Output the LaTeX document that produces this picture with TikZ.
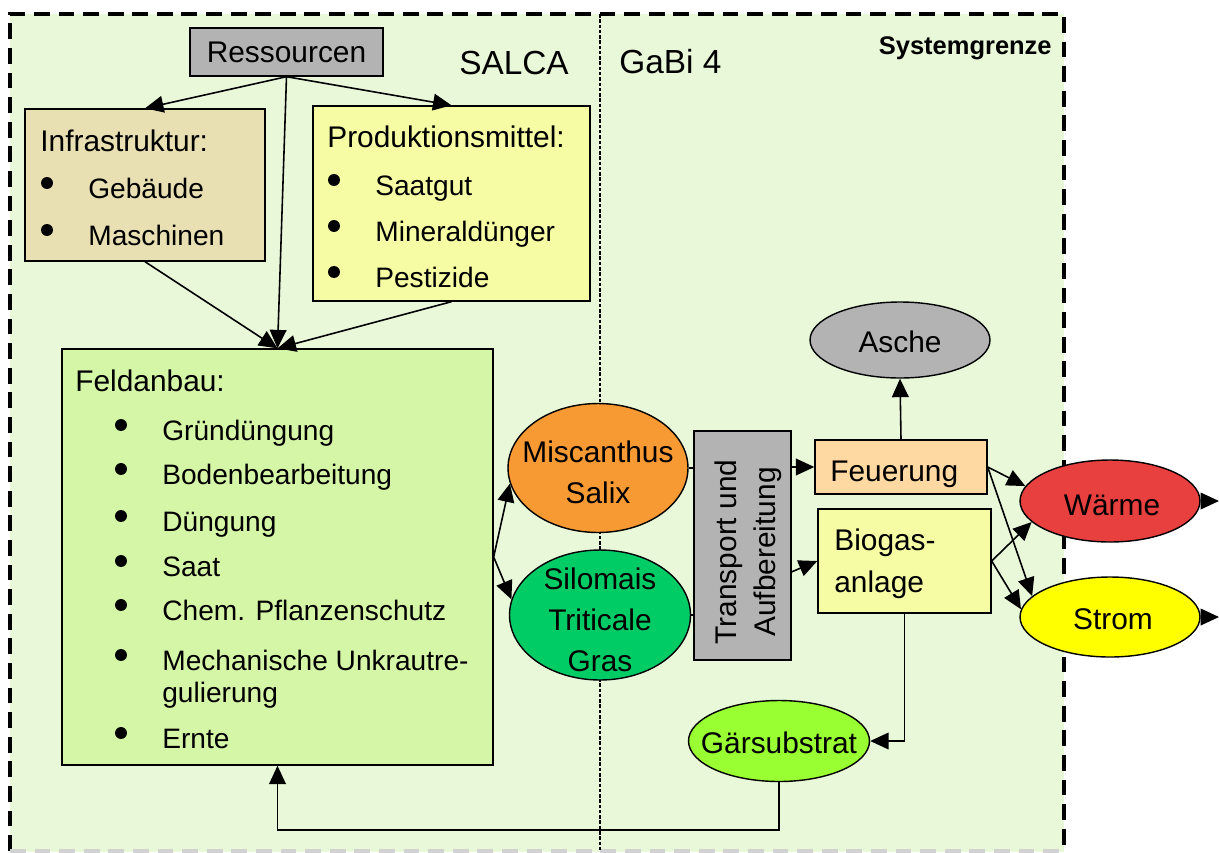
\documentclass[tikz,border=0pt]{standalone}
\usepackage{fontspec}
\setmainfont{Liberation Sans}
\usetikzlibrary{shapes.geometric,arrows.meta}
\definecolor{bgrand}{HTML}{E8F8D9}
\definecolor{grau}{HTML}{B3B3B3}
\definecolor{infrafarbe}{HTML}{E8E0B2}
\definecolor{prodfarbe}{HTML}{F5FCA3}
\definecolor{feldfarbe}{HTML}{D6F6A7}
\definecolor{miscfarbe}{HTML}{F89A33}
\definecolor{silofarbe}{HTML}{00CC66}
\definecolor{feuerfarbe}{HTML}{FFD9A1}
\definecolor{waermefarbe}{HTML}{E83F3F}
\definecolor{stromfarbe}{HTML}{FFFF00}
\definecolor{gaerfarbe}{HTML}{99FF33}
\tikzset{
  box/.style={draw, line width=0.8pt, inner sep=0pt},
  oval/.style={ellipse, draw, line width=0.8pt, inner sep=0pt},
  otext/.style={inner sep=0pt, align=center, font=\fontsize{17}{23.5}\selectfont},
  titel/.style={anchor=west, inner sep=0pt, text height=12.2pt, text depth=0pt, font=\fontsize{17}{20}\selectfont},
  punkt/.style={anchor=west, inner sep=0pt, text height=11.5pt, text depth=0pt, font=\fontsize{16}{19}\selectfont},
  pfeil/.style={-{Triangle[length=10.5pt,width=9.5pt]}, line width=0.9pt},
  linie/.style={line width=0.9pt},
  grenze/.style={line width=2pt, dash pattern=on 9pt off 5pt},
  teiler/.style={line width=1.1pt, dash pattern=on 2pt off 1pt}
}
\begin{document}
\begin{tikzpicture}[x=0.02cm,y=-0.02cm]
\useasboundingbox (0,0) rectangle (1219,852);
% Systemgrenze
\fill[bgrand] (10,14) rectangle (1064,852);
\draw[grenze] (10,851) -- (10,14) -- (1064,14) -- (1064,851);
\draw[grenze,gray!35] (10,851) -- (1064,851);
\draw[teiler] (600,14) -- (600,852);
\node[inner sep=0pt,font=\fontsize{19}{22}\selectfont] (salca) at (514,63) {SALCA};
\node[inner sep=0pt,anchor=west,font=\fontsize{19}{22}\selectfont] (gabi) at (619,62) {GaBi 4};
\node[inner sep=0pt,anchor=east,font=\fontsize{14.5}{17}\bfseries] (grenze) at (1052,48) {Systemgrenze};

% SALCA-Teil
\node[box,fill=grau,minimum width=3.86cm,minimum height=0.96cm,font=\fontsize{17}{20}\selectfont] (res) at (286.5,52) {Ressourcen};

\node[box,fill=infrafarbe,minimum width=4.8cm,minimum height=3.04cm] (infra) at (145,185) {};
\node[titel] (infratitel) at (40,141) {Infrastruktur:};
\foreach \y/\t [count=\i] in {188/Gebäude,235/Maschinen} {
  \fill (47,\y-5) circle (3.4pt);
  \node[punkt] (infra\i) at (88,\y) {\t};
}

\node[box,fill=prodfarbe,minimum width=5.54cm,minimum height=3.9cm] (prod) at (451.5,203.5) {};
\node[titel] (prodtitel) at (327,137) {Produktionsmittel:};
\foreach \y/\t [count=\i] in {185/Saatgut,231/Mineraldünger,277/Pestizide} {
  \fill (334,\y-5) circle (3.4pt);
  \node[punkt] (prod\i) at (375,\y) {\t};
}

\node[box,fill=feldfarbe,minimum width=8.62cm,minimum height=8.32cm] (feld) at (277.5,557) {};
\node[titel] (feldtitel) at (75,381) {Feldanbau:};
\foreach \y/\t [count=\i] in {430/Gründüngung,474/Bodenbearbeitung,521/Düngung,566/Saat,610/Chem. Pflanzenschutz,660/Mechanische Unkrautre-,738/Ernte} {
  \fill (121,\y-5) circle (3.4pt);
  \node[punkt] (feld\i) at (162,\y) {\t};
}
\node[punkt] (feld6b) at (162,692) {gulierung};

% Energiepflanzen
\node[oval,fill=miscfarbe,minimum width=3.6cm,minimum height=2.58cm] (misc) at (598,468) {};
\node[otext] (misctxt) at (598,472) {Miscanthus\\Salix};
\node[oval,fill=silofarbe,minimum width=3.62cm,minimum height=2.6cm] (silo) at (600,615) {};
\node[otext] (silotxt) at (600,620) {Silomais\\Triticale\\Gras};

% GaBi-Teil
\node[box,fill=grau,minimum width=1.94cm,minimum height=4.58cm] (trans) at (742.5,545.5) {};
\node[otext,rotate=90,font=\fontsize{17}{22}\selectfont] (transtxt) at (748,552) {Transport und\\Aufbereitung};
\node[box,fill=feuerfarbe,minimum width=3.44cm,minimum height=1.08cm] (feuer) at (901,467) {};
\node[titel] (feuertxt) at (830,471) {Feuerung};
\node[box,fill=prodfarbe,minimum width=3.46cm,minimum height=2.08cm] (biogas) at (904.5,561) {};
\node[titel] (biogas1) at (834,540) {Biogas-};
\node[titel] (biogas2) at (834,582) {anlage};
\node[oval,fill=grau,minimum width=3.6cm,minimum height=1.52cm] (asche) at (900,340) {};
\node[otext] (aschetxt) at (900,342) {Asche};
\node[oval,fill=waermefarbe,minimum width=3.6cm,minimum height=1.64cm] (waerme) at (1110,501) {};
\node[otext] (waermetxt) at (1112,505) {Wärme};
\node[oval,fill=stromfarbe,minimum width=3.6cm,minimum height=1.6cm] (strom) at (1110,617) {};
\node[otext] (stromtxt) at (1113,619) {Strom};
\node[oval,fill=gaerfarbe,minimum width=3.62cm,minimum height=1.62cm] (gaer) at (779,741) {};
\node[otext] (gaertxt) at (779,743) {Gärsubstrat};
\coordinate (rand) at (1219,0);
\coordinate (rueck) at (0,830);

% Pfeile
\draw[pfeil] (res.south) -- (infra.north);
\draw[pfeil] (res.south) -- (prod.north);
\draw[pfeil] (res.south) -- (feld.north);
\draw[pfeil] (infra.south) -- (feld.north);
\draw[pfeil] (prod.south) -- (feld.north);
\draw[pfeil] (feld.east) -- (misc.190);
\draw[pfeil] (feld.east) -- (silo.170);
\draw[linie] (misc.east) -- (misc.east -| trans.west);
\draw[linie] (silo.east) -- (silo.east -| trans.west);
\draw[pfeil] (trans.east |- feuer.west) -- (feuer.west);
\draw[pfeil] ([yshift=-15pt]trans.east) -- (biogas.west);
\draw[pfeil] (feuer.north) -- (asche.south);
\draw[pfeil] (feuer.east) -- (waerme.170);
\draw[pfeil] (feuer.east) -- (strom.165);
\draw[pfeil] (biogas.east) -- (waerme.195);
\draw[pfeil] (biogas.east) -- (strom.175);
\draw[pfeil] (waerme.east) -- (waerme.east -| rand);
\draw[pfeil] (strom.east) -- (strom.east -| rand);
\draw[pfeil] (biogas.south) |- (gaer.east);
\draw[pfeil] (gaer.south) -- (gaer.south |- rueck) -| (feld.south);
\end{tikzpicture}
\end{document}
